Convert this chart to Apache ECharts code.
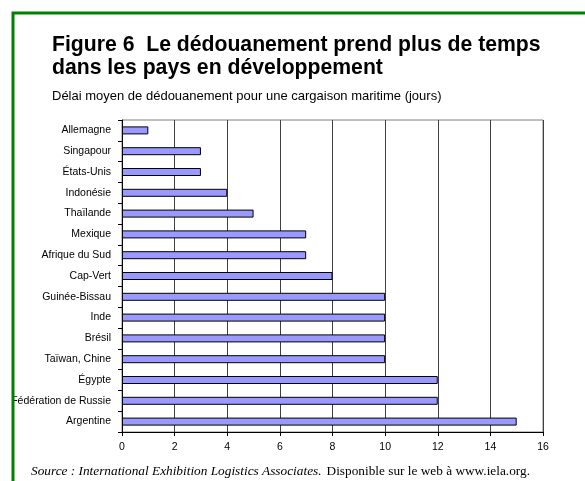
<!DOCTYPE html>
<html>
<head>
    <meta charset="utf-8">
    <title>Figure 6</title>
    <script src="https://cdn.jsdelivr.net/npm/echarts@6/dist/echarts.min.js"></script>
    <style>
        html, body { margin: 0; padding: 0; background: #fff; }
        #chart { width: 585px; height: 481px; }
    </style>
</head>
<body>
    <div id="chart"></div>
    <script>
        // données (jours)
        var pays = ['Allemagne', 'Singapour', 'États-Unis', 'Indonésie', 'Thaïlande', 'Mexique',
            'Afrique du Sud', 'Cap-Vert', 'Guinée-Bissau', 'Inde', 'Brésil', 'Taïwan, Chine',
            'Égypte', 'Fédération de Russie', 'Argentine'];
        var jours = [1, 3, 3, 4, 5, 7, 7, 8, 10, 10, 10, 10, 12, 12, 15];
        var xTicks = [0, 2, 4, 6, 8, 10, 12, 14, 16];

        var chart = echarts.init(document.getElementById('chart'));
        var sans = 'Liberation Sans, Arial, sans-serif';
        var serif = 'Liberation Serif, Times New Roman, serif';

        var option = {
            animation: false,
            backgroundColor: '#fff',
            title: [
                {
                    text: 'Figure 6  Le dédouanement prend plus de temps\ndans les pays en développement',
                    left: 52,
                    top: 34,
                    padding: 0,
                    textStyle: {
                        fontFamily: sans,
                        fontSize: 21.2,
                        fontWeight: 'bold',
                        color: '#000',
                        lineHeight: 23
                    }
                },
                {
                    text: 'Délai moyen de dédouanement pour une cargaison maritime (jours)',
                    left: 52,
                    top: 90,
                    padding: 0,
                    textStyle: {
                        fontFamily: sans,
                        fontSize: 13,
                        fontWeight: 'normal',
                        color: '#000'
                    }
                },
                {
                    text: '{i|Source : International Exhibition Logistics Associates.} {n|Disponible sur le web à www.iela.org.}',
                    left: 31,
                    top: 463,
                    padding: 0,
                    textStyle: {
                        fontWeight: 'normal',
                        rich: {
                            i: { fontFamily: serif, fontStyle: 'italic', fontWeight: 'normal', fontSize: 13.3, color: '#000' },
                            n: { fontFamily: serif, fontWeight: 'normal', fontSize: 13.3, color: '#000' }
                        }
                    }
                }
            ],
            grid: {
                left: 122,
                right: 42,
                top: 120,
                bottom: 49,
                show: true,
                borderColor: '#808080',
                borderWidth: 1
            },
            xAxis: {
                type: 'value',
                min: xTicks[0],
                max: xTicks[xTicks.length - 1],
                interval: 2,
                axisLine: { show: true, lineStyle: { color: '#000' } },
                axisTick: { show: true, length: 4, lineStyle: { color: '#000' } },
                axisLabel: {
                    fontFamily: sans, fontSize: 10.5, color: '#000', margin: 10
                },
                splitLine: { show: true, lineStyle: { color: '#404040', width: 1 } }
            },
            yAxis: {
                type: 'category',
                inverse: true,
                data: pays,
                axisLine: { show: true, lineStyle: { color: '#000' } },
                axisTick: { show: true, length: 4, lineStyle: { color: '#000' } },
                axisLabel: {
                    fontFamily: sans, fontSize: 10.5, color: '#000', margin: 11
                },
                splitLine: { show: false }
            },
            series: [
                {
                    type: 'bar',
                    data: jours,
                    barWidth: 8,
                    itemStyle: {
                        color: '#9999ff',
                        borderColor: '#000',
                        borderWidth: 1
                    }
                }
            ],
            graphic: [
                {
                    type: 'rect',
                    z: 100,
                    shape: { x: 0, y: 0, width: 11, height: 481 },
                    style: { fill: '#fff' }
                },
                {
                    type: 'rect',
                    z: 101,
                    shape: { x: 13, y: 13, width: 700, height: 600 },
                    style: { fill: 'none', stroke: '#008000', lineWidth: 3 }
                }
            ]
        };

        chart.setOption(option);
    </script>
</body>
</html>
